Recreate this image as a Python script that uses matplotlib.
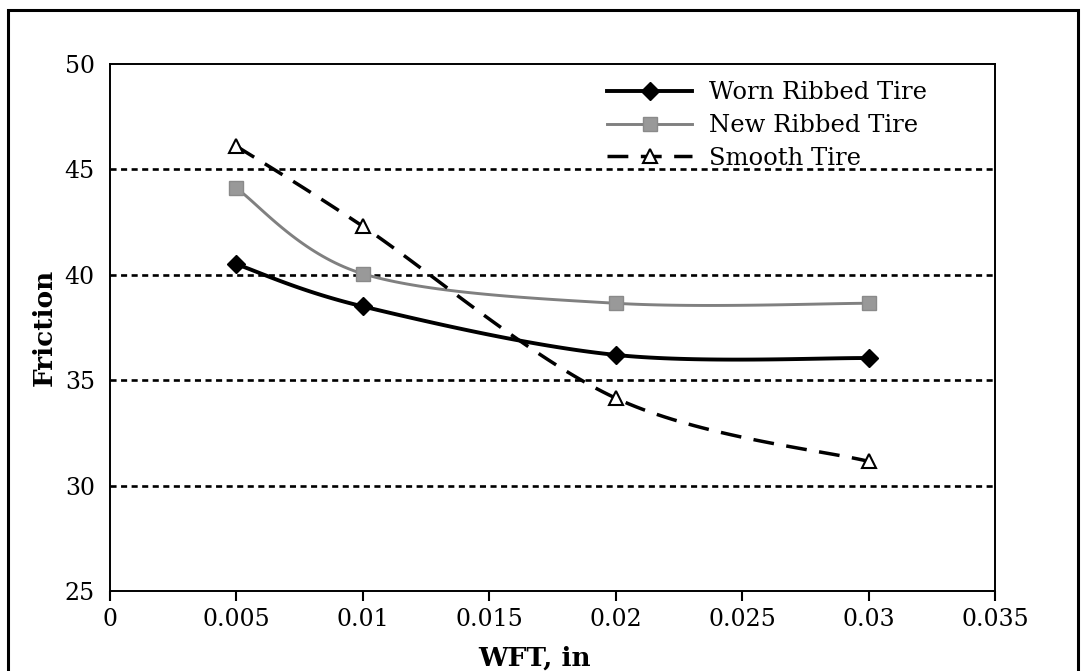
"""
Friction vs. WFT for three tire types
"""
import numpy as np
import matplotlib
matplotlib.use('Agg')
import matplotlib.pyplot as plt
from matplotlib.patches import Rectangle

wft = [0.005, 0.01, 0.02, 0.03]
worn_ribbed = [40.5, 38.5, 36.2, 36.05]
new_ribbed = [44.1, 40.05, 38.65, 38.65]
smooth_tire = [46.1, 42.3, 34.15, 31.15]

x_ticks = [0, 0.005, 0.01, 0.015, 0.02, 0.025, 0.03, 0.035]
x_tick_labels = ['0', '0.005', '0.01', '0.015', '0.02', '0.025', '0.03', '0.035']
y_ticks = [25, 30, 35, 40, 45, 50]


def smooth_curve(xs, ys, xspan, yspan, n=40):
    """Excel-style smoothed line: Bezier segments with Catmull-Rom control points"""
    px = np.asarray(xs) / xspan
    py = np.asarray(ys) / yspan
    out_x, out_y = [], []
    t = np.linspace(0, 1, n)
    for i in range(len(px) - 1):
        p0 = np.array([px[max(i - 1, 0)], py[max(i - 1, 0)]])
        p1 = np.array([px[i], py[i]])
        p2 = np.array([px[i + 1], py[i + 1]])
        p3 = np.array([px[min(i + 2, len(px) - 1)], py[min(i + 2, len(px) - 1)]])
        c1 = p1 + (p2 - p0) / 6
        c2 = p2 - (p3 - p1) / 6
        seg = ((1 - t) ** 3)[:, None] * p1 + (3 * (1 - t) ** 2 * t)[:, None] * c1 \
            + (3 * (1 - t) * t ** 2)[:, None] * c2 + (t ** 3)[:, None] * p2
        out_x.extend(seg[:, 0] * xspan)
        out_y.extend(seg[:, 1] * yspan)
    return out_x, out_y


plt.rcParams['font.family'] = ['DejaVu Serif']

fig = plt.figure(figsize=(10.83, 6.71), dpi=100)
ax = fig.add_axes([0.1016, 0.1192, 0.8171, 0.7854])

# outer frame around the figure
fig.patches.append(Rectangle((8 / 1083, -0.02), 1070 / 1083, 1 - 10 / 671 + 0.02,
                             transform=fig.transFigure, fill=False,
                             edgecolor='black', linewidth=2.2))

xspan, yspan = 0.035, 25.0

# horizontal dotted gridlines
for yv in [30, 35, 40, 45]:
    ax.axhline(yv, color='black', linewidth=1.9, linestyle=(0, (2.3, 1.7)), zorder=1)

series = [
    (worn_ribbed, 'Worn Ribbed Tire', dict(color='black', linewidth=2.8, linestyle='-'),
     dict(marker='D', markersize=9, markerfacecolor='black', markeredgecolor='black')),
    (new_ribbed, 'New Ribbed Tire', dict(color='#808080', linewidth=2.1, linestyle='-'),
     dict(marker='s', markersize=9.5, markerfacecolor='#999999', markeredgecolor='#8a8a8a')),
    (smooth_tire, 'Smooth Tire', dict(color='black', linewidth=2.5, linestyle=(0, (6, 3.6))),
     dict(marker='^', markersize=10, markerfacecolor='white', markeredgecolor='black',
          markeredgewidth=1.5)),
]

handles = []
for ys, label, lstyle, mstyle in series:
    cx, cy = smooth_curve(wft, ys, xspan, yspan)
    ax.plot(cx, cy, zorder=2, **lstyle)
    ax.plot(wft, ys, linestyle='none', zorder=3, **mstyle)
    h, = ax.plot([], [], label=label, **lstyle, **mstyle)
    handles.append(h)

ax.set_xlim(0, 0.035)
ax.set_ylim(25, 50)
ax.set_xticks(x_ticks)
ax.set_xticklabels(x_tick_labels)
ax.set_yticks(y_ticks)
ax.tick_params(axis='x', direction='out', length=7, width=1.5, labelsize=17, pad=5)
ax.tick_params(axis='y', length=0, labelsize=17, pad=11)
for spine in ax.spines.values():
    spine.set_linewidth(1.4)

ax.set_xlabel('WFT, in', fontsize=19, fontweight='bold')
ax.xaxis.set_label_coords(0.48, -0.103)
ax.set_ylabel('Friction', fontsize=19, fontweight='bold', labelpad=6)

ax.legend(handles=handles, loc='upper left', bbox_to_anchor=(0.5616, 0.967),
          frameon=False, fontsize=17.5, handlelength=3.5, handletextpad=0.7,
          labelspacing=0.4, borderaxespad=0, borderpad=0)

plt.savefig('out.png', dpi=100)
plt.close()
